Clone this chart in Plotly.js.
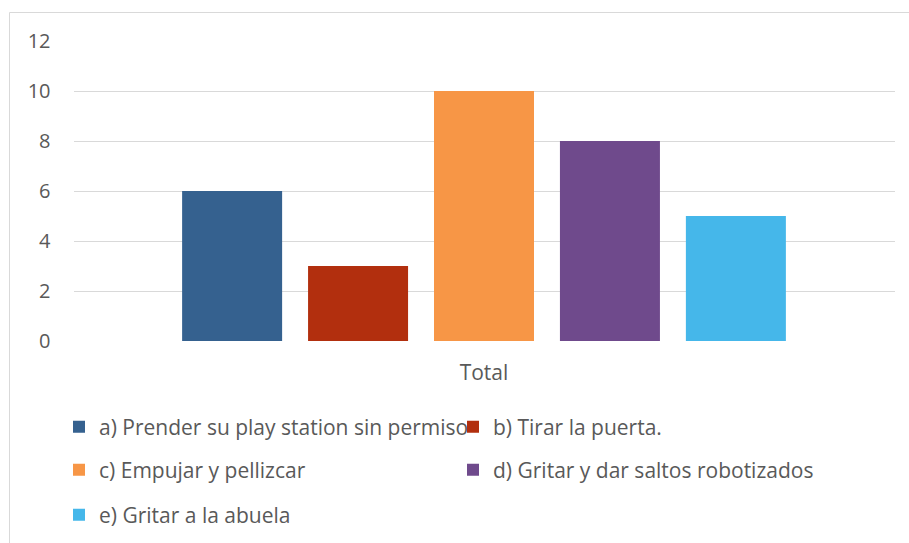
<!DOCTYPE html>
<html>
<head>
<meta charset="utf-8">
<script src="https://cdn.plot.ly/plotly-3.0.1.min.js"></script>
<style>
  html, body { margin: 0; padding: 0; background: #fff; }
  #chart { width: 909px; height: 543px; }
</style>
</head>
<body>
<div id="chart"></div>
<script>
const categories = ["Total"];
const seriesNames = [
  "a) Prender su play station sin permiso",
  "b) Tirar la puerta.",
  "c) Empujar y pellizcar",
  "d) Gritar y dar saltos robotizados",
  "e) Gritar a la abuela"
];
const seriesValues = [6, 3, 10, 8, 5];
const seriesColors = ["#35618F", "#B22F0E", "#F79646", "#6F4A8C", "#45B7EA"];
const yTicks = [0, 2, 4, 6, 8, 10, 12];
const legendOf = ["legend", "legend", "legend2", "legend2", "legend3"];

const W = 909, H = 543;
const px = v => v / W;          // pixel x -> paper x
const py = v => (H - v) / H;    // pixel y -> paper y

const traces = seriesNames.map((name, i) => ({
  type: "bar",
  name: name,
  x: categories,
  y: [seriesValues[i]],
  marker: { color: seriesColors[i] },
  legend: legendOf[i],
  hoverinfo: "x+y+name"
}));

const txt = "#595959";
const grid = "#D9D9D9";
const fontFam = "'Open Sans', sans-serif";
const fs = 20;
const lfs = 21;

const legendBase = {
  orientation: "h",
  x: px(59),
  xanchor: "left",
  yanchor: "middle",
  entrywidth: 349,
  entrywidthmode: "pixels",
  itemwidth: 30,
  font: { family: fontFam, size: lfs, color: txt },
  bgcolor: "rgba(0,0,0,0)",
  traceorder: "normal"
};

const layout = {
  width: W,
  height: H,
  margin: { l: 0, r: 0, t: 0, b: 0, pad: 0 },
  paper_bgcolor: "#ffffff",
  plot_bgcolor: "#ffffff",
  font: { family: fontFam, size: fs, color: txt },
  barmode: "group",
  bargap: 0.233,
  bargroupgap: 0.206,
  xaxis: {
    type: "category",
    domain: [px(73.5), px(894.5)],
    showgrid: false,
    zeroline: false,
    showline: false,
    ticks: "",
    automargin: false,
    ticklabelstandoff: 17,
    tickfont: { family: fontFam, size: 21, color: txt }
  },
  yaxis: {
    domain: [py(341), py(41)],
    range: [0, 12],
    tickvals: yTicks,
    ticktext: yTicks.map(String),
    showgrid: true,
    gridcolor: grid,
    gridwidth: 1,
    zeroline: false,
    showline: false,
    ticks: "",
    automargin: false,
    ticklabelstandoff: 22,
    tickfont: { family: fontFam, size: fs, color: txt }
  },
  showlegend: true,
  legend: Object.assign({}, legendBase, { y: py(427) }),
  legend2: Object.assign({}, legendBase, { y: py(470) }),
  legend3: Object.assign({}, legendBase, { y: py(515) }),
  shapes: [{
    type: "rect",
    xref: "paper", yref: "paper",
    x0: px(9.5), x1: px(930),
    y0: py(560), y1: py(12.5),
    line: { color: grid, width: 1 },
    fillcolor: "rgba(0,0,0,0)",
    layer: "below"
  }]
};

Plotly.newPlot("chart", traces, layout, { displayModeBar: false, responsive: false });
</script>
</body>
</html>
